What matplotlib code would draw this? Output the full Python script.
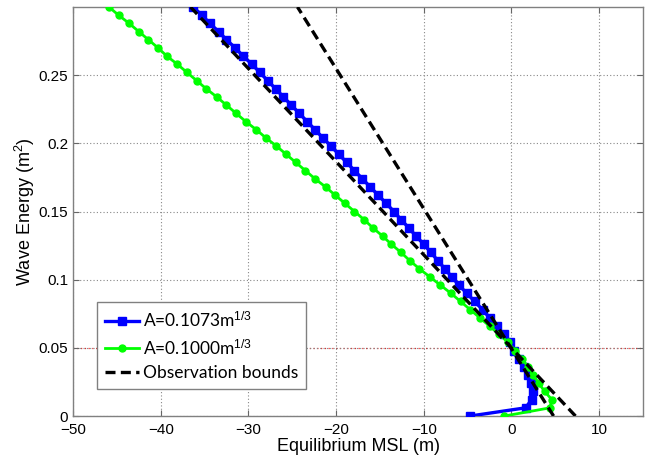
import numpy as np
import matplotlib
matplotlib.use("Agg")
import matplotlib.pyplot as plt

plt.rcParams["font.family"] = ["Liberation Sans", "DejaVu Sans"]
plt.rcParams["mathtext.fontset"] = "custom"
plt.rcParams["mathtext.rm"] = "Liberation Sans"
plt.rcParams["mathtext.it"] = "Liberation Sans:italic"

# Wave energy levels (m^2) at which the equilibrium MSL was evaluated
energy = [round(0.006 * k, 3) for k in range(51)]

# Equilibrium MSL (m), A = 0.1073 m^(1/3)
msl_a1073 = [
    -4.7, 1.6, 2.3, 2.4, 2.2, 1.9, 1.4, 0.9, 0.3, -0.2,
    -0.9, -1.7, -2.5, -3.3, -4.2, -5.1, -6.0, -6.8, -7.6, -8.4,
    -9.2, -10.0, -10.9, -11.7, -12.6, -13.4, -14.3, -15.2, -16.1, -17.0,
    -17.9, -18.8, -19.7, -20.6, -21.5, -22.4, -23.3, -24.2, -25.1, -26.0,
    -26.9, -27.8, -28.7, -29.6, -30.6, -31.5, -32.5, -33.4, -34.4, -35.3,
    -36.3,
]

# Equilibrium MSL (m), A = 0.1000 m^(1/3)
msl_a1000 = [
    -0.8, 4.4, 4.6, 3.8, 3.1, 2.5, 1.9, 1.2, 0.4, -0.4,
    -1.4, -2.5, -3.6, -4.7, -5.8, -6.9, -8.1, -9.3, -10.5, -11.6,
    -12.6, -13.7, -14.7, -15.8, -16.8, -17.9, -19.0, -20.1, -21.2, -22.4,
    -23.5, -24.6, -25.7, -26.8, -28.0, -29.1, -30.3, -31.4, -32.5, -33.6,
    -34.8, -35.9, -37.0, -38.1, -39.3, -40.3, -41.4, -42.5, -43.6, -44.8,
    -45.9,
]

# Observation bounds: two straight lines (energy, MSL) end points
bound_energy = [0.0, 0.3]
bound_low = [7.3, -36.6]
bound_high = [4.8, -24.4]

x_ticks = [-50, -40, -30, -20, -10, 0, 10]
y_ticks = [0, 0.05, 0.1, 0.15, 0.2, 0.25]
y_tick_labels = ["0", "0.05", "0.1", "0.15", "0.2", "0.25"]

fig = plt.figure(figsize=(6.53, 4.61), dpi=100)
ax = fig.add_axes([0.1118, 0.0976, 0.8729, 0.8872])

ax.plot(msl_a1073, energy, color="#0000ff", lw=2.4, marker="s", ms=5.5,
        label="A=0.1073m$^{1/3}$", zorder=3)
ax.plot(msl_a1000, energy, color="#00ff00", lw=2.0, marker="o", ms=5.0,
        label="A=0.1000m$^{1/3}$", zorder=3)
ax.plot(bound_low, bound_energy, color="black", lw=2.4, ls=(0, (3, 1.6)),
        label="Observation bounds", zorder=4)
ax.plot(bound_high, bound_energy, color="black", lw=2.4, ls=(0, (3, 1.6)),
        zorder=4)

ax.set_xlim(-50, 15)
ax.set_ylim(0, 0.3)
ax.set_xticks(x_ticks)
ax.set_yticks(y_ticks)
ax.set_yticklabels(y_tick_labels)

ax.grid(True, ls=(0, (1, 2)), color="#888888", lw=0.8, zorder=0)
ax.axhline(0.05, ls=(0, (1, 2)), color="#e03030", lw=0.9, zorder=1)

ax.tick_params(direction="in", top=True, right=True, length=4,
               labelsize=11, color="#666666")
ax.tick_params(axis="x", pad=5)
for s in ax.spines.values():
    s.set_color("#808080")
    s.set_linewidth(1.0)

ax.set_xlabel("Equilibrium MSL (m)", fontsize=13, labelpad=1)
ax.set_ylabel("Wave Energy (m$^2$)", fontsize=13, labelpad=1)

leg = ax.legend(loc="lower left", bbox_to_anchor=(0.042, 0.066),
                borderaxespad=0,
                prop={"family": "Lato", "size": 12.5}, fancybox=False,
                edgecolor="#808080", framealpha=1, handlelength=2.0,
                handletextpad=0.2, borderpad=0.45, labelspacing=0.45)
leg.get_frame().set_linewidth(1.0)

fig.savefig("out.png", dpi=100)
